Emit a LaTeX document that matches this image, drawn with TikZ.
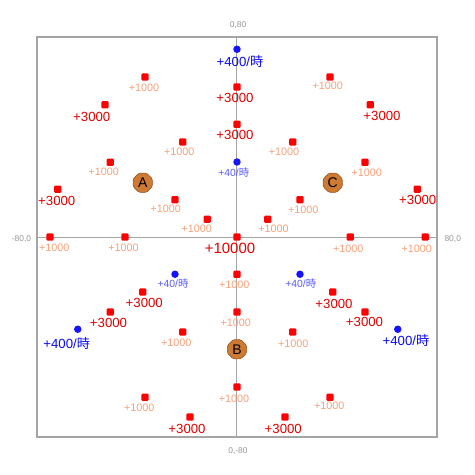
\documentclass[tikz,border=0pt]{standalone}
\usepackage{fontspec}
\setmainfont{Liberation Sans}
\newfontfamily\jpfont{Noto Sans CJK JP}
\usetikzlibrary{shapes.geometric}

\definecolor{framegray}{RGB}{165,165,165}
\definecolor{ticktext}{RGB}{150,150,150}
\definecolor{ptred}{RGB}{255,0,0}
\definecolor{txtred}{RGB}{225,0,0}
\definecolor{salmon}{RGB}{245,160,120}
\definecolor{ptblue}{RGB}{20,20,255}
\definecolor{txtblue}{RGB}{10,10,240}
\definecolor{liteblue}{RGB}{90,90,255}
\definecolor{spotfill}{RGB}{205,122,52}
\definecolor{spotedge}{RGB}{150,80,25}

\newcommand{\perhr}{{\jpfont 時}}

\begin{document}
\begin{tikzpicture}[x=1.875pt,y=1.875pt,
  redpt/.style={rectangle,rounded corners=0.8pt,fill=ptred,minimum size=5.4pt,inner sep=0pt},
  bluept/.style={circle,fill=ptblue,minimum size=5.6pt,inner sep=0pt},
  lone/.style={text=salmon,font=\fontsize{8.1}{9}\selectfont,inner sep=0pt},
  lthree/.style={text=txtred,font=\fontsize{9.9}{11}\selectfont,inner sep=0pt},
  lten/.style={text=txtred,font=\fontsize{11.2}{12}\selectfont,inner sep=0pt},
  lfourh/.style={text=txtblue,font=\fontsize{9.9}{11}\selectfont,inner sep=0pt},
  lforty/.style={text=liteblue,font=\fontsize{7.8}{9}\selectfont,inner sep=0pt},
  axlab/.style={text=ticktext,font=\fontsize{6.3}{7}\selectfont,inner sep=0pt},
  spot/.style={regular polygon,regular polygon sides=8,rounded corners=1pt,fill=spotfill,draw=spotedge,line width=0.4pt,minimum size=15.5pt,inner sep=0pt,font=\fontsize{10.5}{11}\selectfont,text=black}]

\useasboundingbox (-94.8,-95.2) rectangle (95.2,94.8);

% frame and axes
\draw[framegray,line width=1.1pt] (-80,-80) rectangle (80,80);
\coordinate (xl) at (-80,0);
\coordinate (xr) at (80,0);
\coordinate (yb) at (0,-80);
\coordinate (yt) at (0,80);
\draw[framegray,line width=0.75pt] (xl) -- (xr);
\draw[framegray,line width=0.75pt] (yb) -- (yt);

\node[axlab] (ytop) at (0.4,84.8) {0,80};
\node[axlab] (ybot) at (0.4,-85.6) {0,-80};
\node[axlab] (xleft) at (-86.2,-0.8) {-80,0};
\node[axlab] (xright) at (86.3,-0.8) {80,0};

% +1000 points
\foreach \n/\px/\py/\lx/\ly in {2/-36.8/64/-37.2/59.7, 6/-21.7/38/-23.1/34.1,
    8/-50.7/29.9/-53.3/26, 10/-24.8/14.9/-28.5/11.1, 11/-11.9/7.1/-16.1/3.1,
    12/-74.8/0/-73.1/-4.3, 13/-44.8/0/-45.4/-4.3, 14/37.2/64/36.3/60.4,
    16/22.3/38/18.8/34.1, 17/51.2/29.9/51.9/25.6, 20/25.2/14.9/26.5/10.8,
    21/12.3/7.1/14.6/3.3, 22/45.3/0/44.5/-4.7, 23/75.3/0/71.9/-4.7,
    28/-21.7/-38/-24.3/-42.4, 29/0/-14.9/-1.1/-19.3, 30/0/-30/-0.5/-34.4,
    32/0/-60/-1.2/-64.7, 33/-36.8/-64.1/-39.1/-68.3, 39/22.3/-38/22.5/-42.7,
    40/37.2/-64.1/36.9/-67.7}
{
  \node[redpt] (p\n) at (\px,\py) {};
  \node[lone] (l\n) at (\lx,\ly) {+1000};
}

% +3000 points
\foreach \n/\px/\py/\lx/\ly in {3/-52.8/52.9/-58.1/48.1, 4/0/60/-0.8/55.5,
    5/0/45.1/-0.8/40.8, 9/-71.7/19.1/-72.1/14.4, 15/53.3/52.9/58/48.5,
    19/72.1/19.1/72.3/14.8, 25/-37.7/-22/-37.1/-26.3, 26/-50.7/-30/-51.4/-34.4,
    34/-18.8/-72/-20/-76.9, 36/38.3/-22/38.8/-26.7, 37/51.2/-30/51/-34,
    41/19.2/-72/18.5/-76.7}
{
  \node[redpt] (p\n) at (\px,\py) {};
  \node[lthree] (l\n) at (\lx,\ly) {+3000};
}

% blue points
\foreach \n/\px/\py/\lx/\ly in {1/0/75.1/1.2/70.4, 27/-63.7/-36.9/-68.1/-42.7,
    38/64.3/-36.9/67.6/-41.3}
{
  \node[bluept] (p\n) at (\px,\py) {};
  \node[lfourh] (l\n) at (\lx,\ly) {+400/\perhr};
}
\foreach \n/\px/\py/\lx/\ly in {7/0/30/-1.3/25.6, 24/-24.8/-14.9/-25.6/-18.8,
    35/25.2/-14.9/25.5/-18.8}
{
  \node[bluept] (p\n) at (\px,\py) {};
  \node[lforty] (l\n) at (\lx,\ly) {+40/\perhr};
}

% centre
\node[redpt] (p0) at (0,0) {};
\node[lten] (l0) at (-2.8,-4.5) {+10000};

% spots
\node[spot] (A) at (-37.7,21.7) {A};
\node[spot] (B) at (0,-44.9) {B};
\node[spot] (C) at (38.3,21.7) {C};

\end{tikzpicture}
\end{document}
